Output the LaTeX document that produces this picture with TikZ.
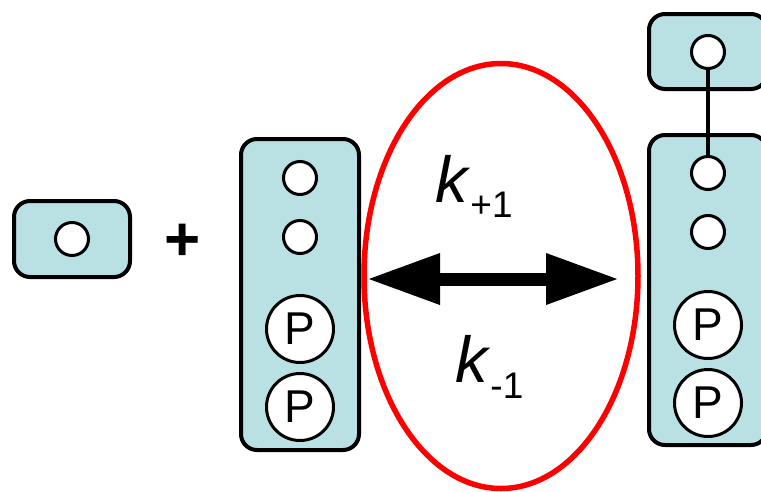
\documentclass[tikz,border=0pt]{standalone}
\usepackage{fontspec}
\setmainfont{Liberation Sans}
\usetikzlibrary{arrows.meta,shapes.geometric}
\definecolor{boxblue}{RGB}{185,224,227}
\begin{document}
\begin{tikzpicture}[x=1pt,y=-1pt,
  unit/.style={draw=black, line width=4pt, fill=boxblue, rounded corners=16pt,
    inner sep=0pt, rectangle},
  site/.style={circle, draw=black, line width=3pt, fill=white,
    minimum size=33pt, inner sep=0pt},
  psite/.style={circle, draw=black, line width=3pt, fill=white,
    minimum size=67pt, inner sep=0pt, font=\fontsize{46}{46}\selectfont},
  rate/.style={anchor=base west, inner sep=0pt, font=\fontsize{65}{65}\selectfont},
  bigarrow/.style={line width=13pt,
    {Triangle[length=73pt,width=48pt]}-{Triangle[length=73pt,width=48pt]}},
]
\useasboundingbox (0,0) rectangle (761,491);

% monomer
\node[unit, minimum width=116pt, minimum height=76pt] (mono) at (72,239) {};
\node[site] (m1) at (72,239) {};

\node[font=\fontsize{62}{62}\selectfont\bfseries] (plus) at (183,242) {+};

% receptor with two phosphorylated sites
\node[unit, minimum width=118pt, minimum height=311pt] (rec) at (300,294.5) {};
\node[site] (r1) at (300,178) {};
\node[site] (r2) at (300,237) {};
\node[psite] (rp1) at (300,329) {P};
\node[psite] (rp2) at (300,407) {P};

% equilibrium
\node[ellipse, draw=red, line width=5.5pt, minimum width=274pt, minimum height=425pt,
  inner sep=0pt] (eq) at (501,276) {};
\coordinate (al) at (367,279);
\coordinate (ar) at (619,279);
\draw[bigarrow] (al) -- (ar);
\node[rate] (kf) at (435,202) {\textit{k}\raisebox{-15pt}{\fontsize{37}{37}\selectfont +1}};
\node[rate] (kb) at (455,382) {\textit{k}\raisebox{-16pt}{\fontsize{37}{37}\selectfont -1}};

% bound complex
\node[unit, minimum width=118pt, minimum height=75pt] (top) at (708,51.5) {};
\node[unit, minimum width=118pt, minimum height=310pt] (cplx) at (708,290) {};
\node[site] (t1) at (708,52) {};
\node[site] (c1) at (708,173) {};
\node[site] (c2) at (708,232) {};
\node[psite] (cp1) at (708,325) {P};
\node[psite] (cp2) at (708,403) {P};
\draw[line width=4pt] (t1.south) -- (c1.north);
\end{tikzpicture}
\end{document}
